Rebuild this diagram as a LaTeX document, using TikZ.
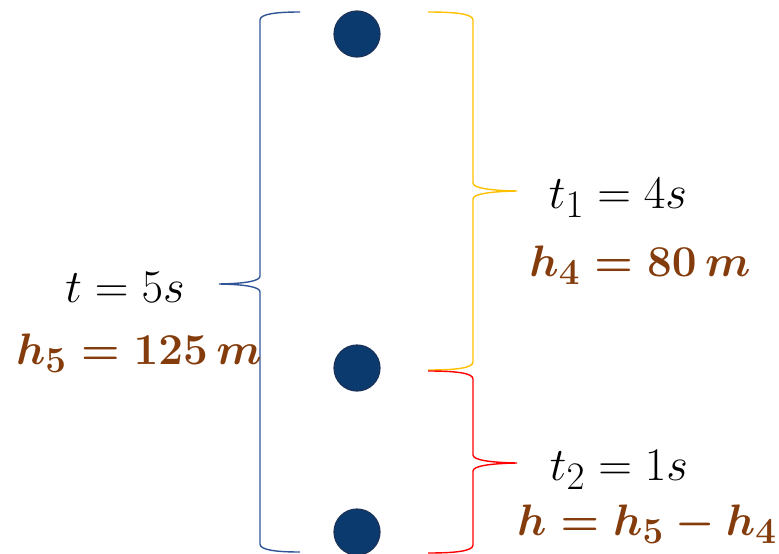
\documentclass[tikz,border=0pt]{standalone}
\usepackage{amsmath}
\definecolor{ballblue}{HTML}{0B3A6E}
\definecolor{balledge}{HTML}{1B3358}
\definecolor{braceblue}{HTML}{2F5597}
\definecolor{braceyellow}{HTML}{FFC000}
\definecolor{bracered}{HTML}{FF0000}
\definecolor{brownbold}{HTML}{843C0C}
\begin{document}
\begin{tikzpicture}[x=1pt,y=-1pt,
  ball/.style={circle,fill=ballblue,draw=balledge,line width=1.2pt,minimum size=46pt,inner sep=0pt},
  bracepath/.style={line width=1.4pt},
  lbl/.style={anchor=base,inner sep=0pt,scale=1.88,transform shape,font=\Huge},
  blbl/.style={anchor=base,inner sep=0pt,scale=1.77,transform shape,text=brownbold,font=\Huge\boldmath},
]
\useasboundingbox (0,0) rectangle (779,554);
\clip (0,0) rectangle (779,554);
% balls
\node[ball] (b1) at (357,34) {};
\node[ball] (b2) at (357,368) {};
\node[ball] (b3) at (357,532) {};
% blue brace (t = 5 s)
\coordinate (bt) at (219,284);
\draw[bracepath,braceblue] (300,12) .. controls (276,12) and (260,14) .. (260,20)
  -- (260,276) .. controls (260,281) and (246,283.5) .. (bt)
  .. controls (246,284.5) and (260,287) .. (260,292)
  -- (260,544) .. controls (260,550) and (276,552) .. (300,552);
% yellow brace (t1)
\coordinate (yt) at (517,191);
\draw[bracepath,braceyellow] (428,12) .. controls (456,12) and (473,14) .. (473,20)
  -- (473,183) .. controls (473,188) and (490,190.5) .. (yt)
  .. controls (490,191.5) and (473,194) .. (473,199)
  -- (473,362) .. controls (473,368) and (456,370) .. (428,370);
% red brace (t2)
\coordinate (rt) at (517,463);
\draw[bracepath,bracered] (428,371) .. controls (456,371) and (473,373) .. (473,379)
  -- (473,455) .. controls (473,460) and (490,462.5) .. (rt)
  .. controls (490,463.5) and (473,466) .. (473,471)
  -- (473,545) .. controls (473,551) and (456,553) .. (428,553);
% labels
\node[lbl] (t5) at (125,302) {$t=5s$};
\node[blbl] (h5) at (139,364) {$h_5=125\,m$};
\node[lbl] (t1) at (618,208) {$t_1=4s$};
\node[blbl] (h4) at (640,276) {$h_4=80\,m$};
\node[lbl] (t2) at (619,480) {$t_2=1s$};
\node[blbl] (hh) at (647,535) {$h=h_5-h_4$};
\end{tikzpicture}
\end{document}
